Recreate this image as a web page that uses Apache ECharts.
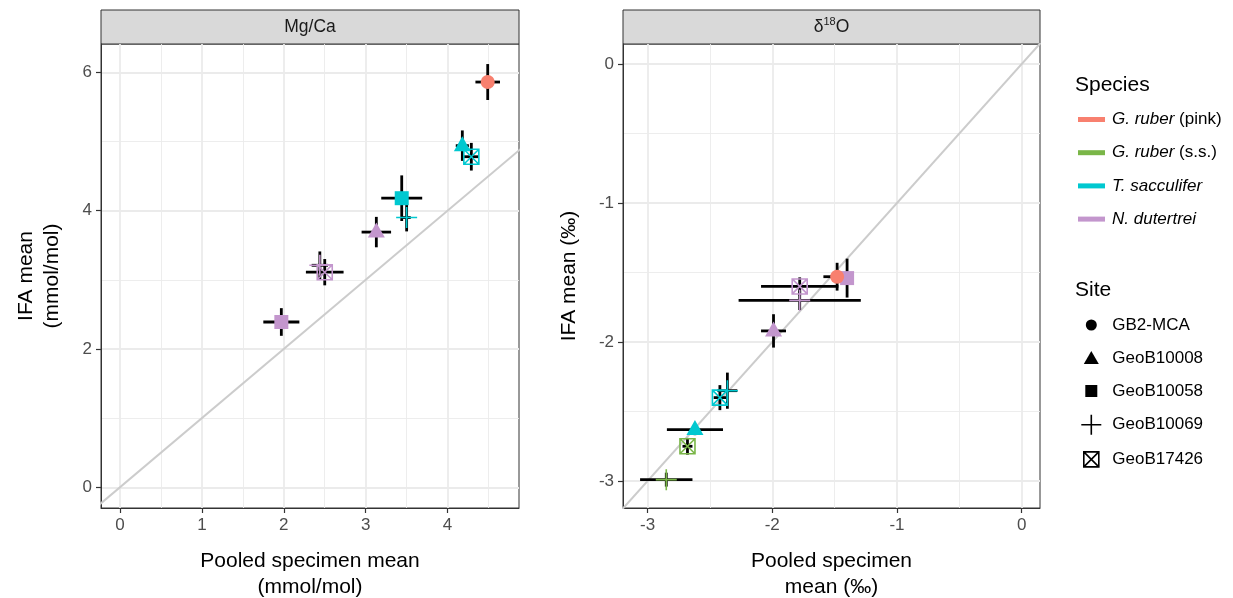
<!DOCTYPE html>
<html><head><meta charset="utf-8">
<script src="https://cdn.jsdelivr.net/npm/echarts@6/dist/echarts.min.js"></script>
<style>html,body{margin:0;padding:0;background:#fff}#c{width:1233px;height:598px}</style>
</head><body><div id="c"></div>
<script>
// ---------- data ----------
const speciesItalic = ['G. ruber', 'G. ruber', 'T. sacculifer', 'N. dutertrei'];
const speciesSuffix = [' (pink)', ' (s.s.)', '', ''];
const speciesNames = speciesItalic.map((s, i) => s + speciesSuffix[i]);
const speciesColors = ['#F8806F', '#7AB648', '#00C8D0', '#C396CD'];
const siteNames = ['GB2-MCA', 'GeoB10008', 'GeoB10058', 'GeoB10069', 'GeoB17426'];

// Mg/Ca panel (mmol/mol)
const mgSpecies = [0, 2, 2, 2, 2, 3, 3, 3, 3];
const mgSite    = [0, 1, 4, 2, 3, 1, 4, 3, 2];
const mgX       = [4.49, 4.18, 4.29, 3.44, 3.50, 3.13, 2.50, 2.44, 1.97];
const mgY       = [5.86, 4.94, 4.78, 4.18, 3.90, 3.69, 3.11, 3.21, 2.39];
const mgXerr    = [0.15, 0.08, 0.09, 0.25, 0.05, 0.18, 0.23, 0.10, 0.22];
const mgYerr    = [0.26, 0.22, 0.20, 0.33, 0.20, 0.22, 0.19, 0.20, 0.20];

// d18O panel (permil)
const d18Species = [0, 3, 3, 3, 3, 2, 2, 2, 1, 1];
const d18Site    = [0, 2, 4, 3, 1, 3, 4, 1, 4, 3];
const d18X       = [-1.48, -1.40, -1.78, -1.78, -1.99, -2.36, -2.42, -2.62, -2.68, -2.85];
const d18Y       = [-1.53, -1.54, -1.60, -1.70, -1.92, -2.35, -2.40, -2.63, -2.75, -2.99];
const d18Xerr    = [0.11, 0.03, 0.31, 0.49, 0.10, 0.08, 0.05, 0.225, 0.04, 0.21];
const d18Yerr    = [0.10, 0.14, 0.065, 0.07, 0.12, 0.13, 0.09, 0.04, 0.06, 0.05];

// ticks and ranges
const mgXTicks = [0, 1, 2, 3, 4];
const mgXMinor = [0.5, 1.5, 2.5, 3.5, 4.5];
const mgYTicks = [0, 2, 4, 6];
const mgYMinor = [1, 3, 5];
const d18Ticks = [-3, -2, -1, 0];
const d18Minor = [-2.5, -1.5, -0.5];
const mgXRange = [-0.232, 4.872];
const mgYRange = [-0.30, 6.41];
const d18XRange = [-3.197, 0.147];
const d18YRange = [-3.194, 0.144];
const identity = [-10, 10];

// ---------- styling ----------
const FONT = '"Liberation Sans", Arial, Helvetica, sans-serif';
const plusPath = 'path://M0,10L20,10M10,0L10,20';
const crossPath = 'path://M0,0L20,0L20,20L0,20ZM0,0L20,20M20,0L0,20';
const siteSymbols = ['circle', 'triangle', 'rect', plusPath, crossPath];
const siteSizes = [14, [17, 15], 14, 21, 15];
const siteOpen = [false, false, false, true, true];
const siteLegendIcons = [
  'path://M0,0M20,20M15.5,10A5.5,5.5,0,1,1,4.5,10A5.5,5.5,0,1,1,15.5,10Z',
  'path://M0,0M20,20M10,3L17.5,16L2.5,16Z',
  'path://M0,0M20,20M4,4L16,4L16,16L4,16Z',
  'path://M0,10L20,10M10,0L10,20',
  'path://M0,0M20,20M2.5,2.5L17.5,2.5L17.5,17.5L2.5,17.5ZM2.5,2.5L17.5,17.5M17.5,2.5L2.5,17.5'
];

function markerItem(x, y, site, color) {
  const item = { value: [x, y], symbol: siteSymbols[site], symbolSize: siteSizes[site] };
  if (site === 1) item.symbolOffset = [0, -2];
  if (siteOpen[site]) item.itemStyle = { color: 'rgba(0,0,0,0)', borderColor: color, borderWidth: 1.6, opacity: 1 };
  else item.itemStyle = { color: color, borderWidth: 0, opacity: 1 };
  return item;
}

function mainAxis(gridIndex, range, ticks, name, gap, isY) {
  return {
    type: 'value', gridIndex, min: range[0], max: range[1], position: isY ? 'left' : 'bottom',
    name, nameLocation: 'middle', nameGap: gap, nameRotate: isY ? 90 : 0, nameMoveOverlap: false,
    nameTextStyle: { fontFamily: FONT, fontSize: 21, lineHeight: 26, color: '#000' },
    axisLine: { show: true, onZero: false, lineStyle: { color: '#333', width: 1 } },
    axisTick: { show: true, length: 5, inside: false, customValues: ticks, lineStyle: { color: '#333', width: 1.2 } },
    axisLabel: { show: true, customValues: ticks, margin: 9, fontFamily: FONT, fontSize: 17, color: '#4D4D4D' },
    splitLine: { show: true, lineStyle: { color: '#EBEBEB', width: 1.8 } },
    minorTick: { show: false }, minorSplitLine: { show: false }
  };
}
function minorAxis(gridIndex, range, ticks, isY) {
  return {
    type: 'value', gridIndex, min: range[0], max: range[1], position: isY ? 'right' : 'top',
    axisLine: { show: false }, axisTick: { show: false, customValues: ticks },
    axisLabel: { show: false, customValues: ticks },
    splitLine: { show: true, lineStyle: { color: '#EBEBEB', width: 0.9 } }
  };
}

function errorSeries(axisIdx, xs, ys, exs, eys) {
  return {
    type: 'custom', xAxisIndex: axisIdx, yAxisIndex: axisIdx, silent: true, z: 3,
    encode: { x: 0, y: 1 },
    data: xs.map((x, i) => [x, ys[i], exs[i], eys[i]]),
    renderItem: function (params, api) {
      const x = api.value(0), y = api.value(1), ex = api.value(2), ey = api.value(3);
      const l = api.coord([x - ex, y]), r = api.coord([x + ex, y]);
      const b = api.coord([x, y - ey]), t = api.coord([x, y + ey]);
      const st = { stroke: '#000', lineWidth: 2.8, fill: null };
      return { type: 'group', children: [
        { type: 'line', shape: { x1: l[0], y1: l[1], x2: r[0], y2: r[1] }, style: st },
        { type: 'line', shape: { x1: b[0], y1: b[1], x2: t[0], y2: t[1] }, style: st }
      ] };
    }
  };
}

function markerSeries(axisIdx, spArr, siteArr, xs, ys) {
  const out = [];
  [3, 2, 1, 0].forEach(s => {
    const data = [];
    spArr.forEach((sp, i) => { if (sp === s) data.push(markerItem(xs[i], ys[i], siteArr[i], speciesColors[s])); });
    if (data.length) out.push({
      type: 'scatter', name: speciesNames[s], xAxisIndex: axisIdx, yAxisIndex: axisIdx, z: 4,
      itemStyle: { color: speciesColors[s], opacity: 1 }, emphasis: { disabled: true }, data
    });
  });
  return out;
}

function identitySeries(axisIdx) {
  return {
    type: 'line', xAxisIndex: axisIdx, yAxisIndex: axisIdx, silent: true, z: 2, clip: true,
    symbol: 'none', data: [[identity[0], identity[0]], [identity[1], identity[1]]],
    lineStyle: { color: '#CCCCCC', width: 2 }
  };
}

const series = [
  identitySeries(0), identitySeries(2),
  errorSeries(0, mgX, mgY, mgXerr, mgYerr),
  errorSeries(2, d18X, d18Y, d18Xerr, d18Yerr),
  ...markerSeries(0, mgSpecies, mgSite, mgX, mgY),
  ...markerSeries(2, d18Species, d18Site, d18X, d18Y),
  ...siteNames.map(n => ({ type: 'scatter', name: n, xAxisIndex: 0, yAxisIndex: 0, data: [], itemStyle: { color: '#000', opacity: 1 } }))
];

const gridBase = { top: 44, height: 464, show: true, borderColor: '#333', borderWidth: 1, backgroundColor: '#fff', containLabel: false, outerBoundsMode: 'none' };

const option = {
  animation: false,
  backgroundColor: '#fff',
  grid: [
    Object.assign({ left: 101, width: 418 }, gridBase),
    Object.assign({ left: 623, width: 417 }, gridBase)
  ],
  xAxis: [
    mainAxis(0, mgXRange, mgXTicks, 'Pooled specimen mean\n(mmol/mol)', 40, false),
    minorAxis(0, mgXRange, mgXMinor, false),
    mainAxis(1, d18XRange, d18Ticks, 'Pooled specimen\nmean (‰)', 40, false),
    minorAxis(1, d18XRange, d18Minor, false)
  ],
  yAxis: [
    mainAxis(0, mgYRange, mgYTicks, 'IFA mean\n(mmol/mol)', 36, true),
    minorAxis(0, mgYRange, mgYMinor, true),
    mainAxis(1, d18YRange, d18Ticks, 'IFA mean (‰)', 41, true),
    minorAxis(1, d18YRange, d18Minor, true)
  ],
  legend: [
    {
      data: speciesNames.map((n, i) => ({ name: n, icon: 'rect', itemStyle: { color: speciesColors[i], opacity: 1, borderWidth: 0 } })),
      orient: 'vertical', left: 1078, top: 109.5, padding: 0,
      itemWidth: 27, itemHeight: 5, itemGap: 13.2, selectedMode: false,
      formatter: function (name) {
        const i = speciesNames.indexOf(name);
        return '{i|' + speciesItalic[i] + '}' + speciesSuffix[i];
      },
      textStyle: {
        fontFamily: FONT, fontSize: 17, lineHeight: 20, color: '#000', padding: [0, 0, 0, 2],
        rich: { i: { fontFamily: FONT, fontSize: 17, lineHeight: 20, fontStyle: 'italic', color: '#000' } }
      }
    },
    {
      data: siteNames.map((n, i) => ({
        name: n, icon: siteLegendIcons[i],
        itemStyle: siteOpen[i] ? { color: 'rgba(0,0,0,0)', borderColor: '#000', borderWidth: 1.6, opacity: 1 } : { color: '#000', borderWidth: 0, opacity: 1 }
      })),
      orient: 'vertical', left: 1080.5, top: 315, padding: 0,
      itemWidth: 20, itemHeight: 20, itemGap: 13, selectedMode: false,
      textStyle: { fontFamily: FONT, fontSize: 17, lineHeight: 20, color: '#000', padding: [0, 0, 0, 6] }
    }
  ],
  graphic: [
    { type: 'rect', shape: { x: 101, y: 10, width: 418, height: 34 }, style: { fill: '#D9D9D9', stroke: '#333', lineWidth: 1 } },
    { type: 'text', x: 310, y: 27, style: { text: 'Mg/Ca', fontFamily: FONT, fontSize: 17.5, fill: '#1A1A1A', align: 'center', verticalAlign: 'middle' } },
    { type: 'rect', shape: { x: 623, y: 10, width: 417, height: 34 }, style: { fill: '#D9D9D9', stroke: '#333', lineWidth: 1 } },
    { type: 'text', x: 831.5, y: 27, style: {
        text: '{a|δ}{s|18}{a|O}', align: 'center', verticalAlign: 'middle',
        rich: {
          a: { fontFamily: FONT, fontSize: 17.5, lineHeight: 22, fill: '#1A1A1A' },
          s: { fontFamily: FONT, fontSize: 11, lineHeight: 13, fill: '#1A1A1A', verticalAlign: 'top' }
        } } },
    { type: 'text', x: 1075, y: 85, style: { text: 'Species', fontFamily: FONT, fontSize: 21, fill: '#000', align: 'left', verticalAlign: 'middle' } },
    { type: 'text', x: 1075, y: 290, style: { text: 'Site', fontFamily: FONT, fontSize: 21, fill: '#000', align: 'left', verticalAlign: 'middle' } }
  ],
  series
};

const chart = echarts.init(document.getElementById('c'), null, { renderer: 'canvas' });
chart.setOption(option);
</script></body></html>
